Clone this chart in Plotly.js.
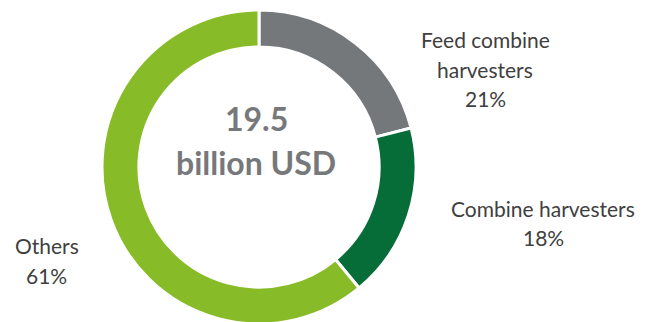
<!DOCTYPE html>
<html>
<head>
<meta charset="utf-8">
<script src="https://cdn.plot.ly/plotly-3.0.1.min.js"></script>
<style>
  html, body { margin: 0; padding: 0; overflow: hidden; background: #ffffff; }
  #chart { width: 647px; height: 334px; }
</style>
</head>
<body>
<div id="chart"></div>
<script>
// ---- data ----
const categories = ["Feed combine harvesters", "Combine harvesters", "Others"];
const shares = [21, 18, 61];
const sliceColors = ["#75787b", "#066d38", "#87bb27"];
const totalValue = "19.5";
const totalUnit = "billion USD";
// label lines per category
const labelLines = [
  ["Feed combine", "harvesters", "21%"],
  ["Combine harvesters", "18%"],
  ["Others", "61%"]
];

// ---- layout helpers ----
const W = 647, H = 334;
const px = x => x / W;
const py = y => (H - y) / H;

// label anchor positions (pixels: center x, first-line center y, line step)
const labelPos = [
  {x: 485, y: 40, step: 29.5},
  {x: 543, y: 208, step: 29.5},
  {x: 46.5, y: 246, step: 29.5}
];

const annotations = [];
labelLines.forEach((lines, i) => {
  lines.forEach((t, j) => {
    annotations.push({
      text: t, showarrow: false, xref: "paper", yref: "paper",
      x: px(labelPos[i].x), y: py(labelPos[i].y + j * labelPos[i].step),
      xanchor: "center", yanchor: "middle",
      font: {family: "Lato, 'Open Sans', sans-serif", size: 21, color: "#404040"}
    });
  });
});
annotations.push({
  text: "<b>" + totalValue + "</b>", showarrow: false, xref: "paper", yref: "paper",
  x: px(256), y: py(119), xanchor: "center", yanchor: "middle",
  font: {family: "Lato, sans-serif", size: 32, color: "#76787a"}
});
annotations.push({
  text: "<b>" + totalUnit + "</b>", showarrow: false, xref: "paper", yref: "paper",
  x: px(256), y: py(162), xanchor: "center", yanchor: "middle",
  font: {family: "Lato, sans-serif", size: 32, color: "#76787a"}
});

const trace = {
  type: "pie",
  labels: categories,
  values: shares,
  hole: 0.765,
  sort: false,
  direction: "clockwise",
  rotation: 0,
  textinfo: "none",
  hoverinfo: "label+percent",
  marker: {colors: sliceColors, line: {color: "#ffffff", width: 3}},
  domain: {x: [px(102), px(416)], y: [py(324), py(10)]},
  showlegend: false
};

const layout = {
  width: W, height: H,
  margin: {l: 0, r: 0, t: 0, b: 0},
  paper_bgcolor: "#ffffff",
  showlegend: false,
  annotations: annotations
};

Plotly.newPlot("chart", [trace], layout, {displayModeBar: false, staticPlot: true});
</script>
</body>
</html>
